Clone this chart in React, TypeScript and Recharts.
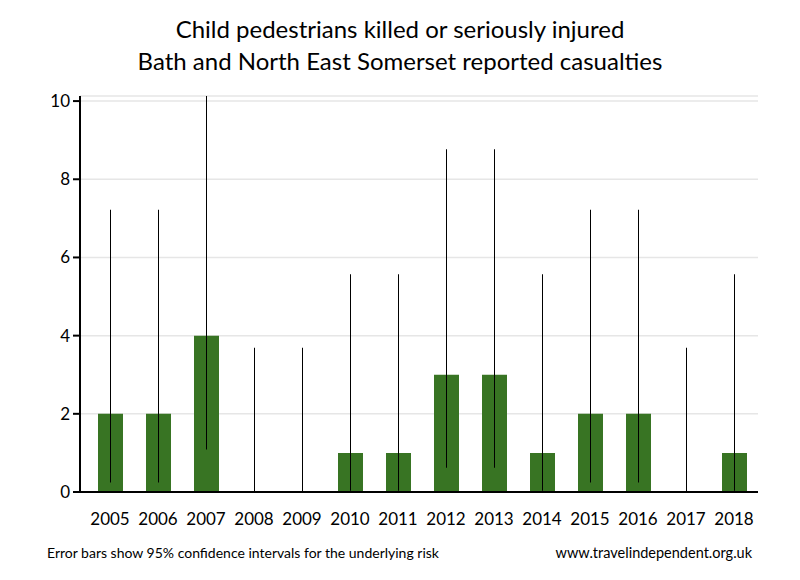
import React from 'react';
import { BarChart, Bar, XAxis, YAxis, CartesianGrid } from 'recharts';

const years = ['2005','2006','2007','2008','2009','2010','2011','2012','2013','2014','2015','2016','2017','2018'];
const casualties = [2, 2, 4, 0, 0, 1, 1, 3, 3, 1, 2, 2, 0, 1];
const lowerCI = [0.24, 0.24, 1.09, 0, 0, 0.03, 0.03, 0.62, 0.62, 0.03, 0.24, 0.24, 0, 0.03];
const upperCI = [7.22, 7.22, 10.24, 3.69, 3.69, 5.57, 5.57, 8.77, 8.77, 5.57, 7.22, 7.22, 3.69, 5.57];
const yTicks = [0, 2, 4, 6, 8, 10];

const data = years.map((y, i) => ({
  year: y,
  value: casualties[i],
  ci: [lowerCI[i], upperCI[i]],
}));

const FONT = 'Lato, "Open Sans", sans-serif';

export default function App() {
  return (
    <div style={{ position: 'absolute', left: 0, top: 0, width: 800, height: 580, background: '#fff', fontFamily: FONT }}>
      <div style={{ position: 'absolute', top: 13, left: 0, width: 800, textAlign: 'center', fontSize: 24, lineHeight: '32px', color: '#000' }}>
        Child pedestrians killed or seriously injured<br />Bath and North East Somerset reported casualties
      </div>
      <BarChart
        width={800}
        height={580}
        data={data}
        margin={{ top: 96, right: 42, bottom: 58, left: 8 }}
      >
        <CartesianGrid vertical={false} stroke="#e6e6e6" strokeWidth={1.5} />
        <XAxis
          dataKey="year"
          height={30}
          tickLine={false}
          tickSize={0}
          tickMargin={21}
          axisLine={{ stroke: '#000', strokeWidth: 2 }}
          tick={{ fill: '#000', fontSize: 17, fontFamily: FONT }}
          padding={{ left: 6, right: 0 }}
          interval={0}
        />
        <XAxis dataKey="year" xAxisId="ci" hide padding={{ left: 6, right: 0 }} />
        <YAxis
          width={72}
          domain={[0, 10.13]}
          allowDataOverflow
          ticks={yTicks}
          tickSize={7}
          tickMargin={3}
          tickLine={{ stroke: '#000', strokeWidth: 2 }}
          axisLine={{ stroke: '#000', strokeWidth: 2 }}
          tick={{ fill: '#000', fontSize: 17, fontFamily: FONT }}
        />
        <Bar dataKey="value" fill="#387423" barSize={25} isAnimationActive={false} />
        <Bar dataKey="ci" xAxisId="ci" fill="#000" barSize={1} isAnimationActive={false} />
      </BarChart>
      <div style={{ position: 'absolute', top: 544, left: 47, fontSize: 14, color: '#000' }}>
        Error bars show 95% confidence intervals for the underlying risk
      </div>
      <div style={{ position: 'absolute', top: 544, right: 48, fontSize: 14.5, color: '#000' }}>
        www.travelindependent.org.uk
      </div>
    </div>
  );
}
